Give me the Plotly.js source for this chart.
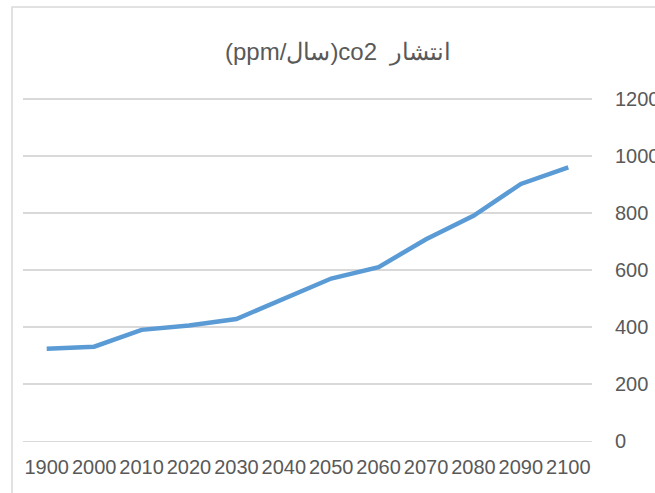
<!DOCTYPE html>
<html>
<head>
<meta charset="utf-8">
<script src="https://cdn.plot.ly/plotly-3.0.1.min.js"></script>
<style>html,body{margin:0;padding:0;background:#fff;}#chart{width:655px;height:493px;}</style>
</head>
<body>
<div id="chart"></div>
<script>
const years = ["1900","2000","2010","2020","2030","2040","2050","2060","2070","2080","2090","2100"];
const co2 = [324, 331, 390, 405, 428, 500, 570, 610, 708, 790, 902, 960];
const yTicks = [0, 200, 400, 600, 800, 1000, 1200];
const titleText = "(ppm/سال)co2  انتشار";

const textColor = "#595959";
const gridColor = "#d9d9d9";

const trace = {
  x: years,
  y: co2,
  type: "scatter",
  mode: "lines",
  line: {color: "#5b9bd5", width: 4.5},
  hoverinfo: "none"
};

const layout = {
  width: 655,
  height: 493,
  margin: {l: 23, r: 63, t: 97, b: 52, pad: 0},
  paper_bgcolor: "#ffffff",
  plot_bgcolor: "#ffffff",
  showlegend: false,
  font: {family: "Liberation Sans, Arial, sans-serif", color: textColor},
  title: {
    text: titleText,
    font: {size: 24, color: textColor, family: "Liberation Sans, Arial, sans-serif"},
    xref: "paper", x: 0.554, xanchor: "center",
    yref: "container", y: 1 - 52/493, yanchor: "middle"
  },
  xaxis: {
    type: "category",
    categoryorder: "array",
    categoryarray: years,
    range: [-0.5, years.length - 0.5],
    showgrid: false,
    showline: true,
    linecolor: gridColor,
    linewidth: 1.2,
    ticks: "",
    ticklabelstandoff: 8,
    tickfont: {size: 20, color: textColor},
    fixedrange: true
  },
  yaxis: {
    side: "right",
    range: [0, 1207],
    tickvals: yTicks,
    ticktext: yTicks.map(String),
    showgrid: true,
    gridcolor: gridColor,
    gridwidth: 1.2,
    zeroline: false,
    showline: false,
    ticks: "",
    ticklabelstandoff: 22,
    tickfont: {size: 20, color: textColor},
    fixedrange: true
  },
  shapes: [{
    type: "rect",
    xref: "paper", yref: "paper",
    x0: -11/569, x1: 1.3, y0: -0.3, y1: (441 - 7)/344,
    line: {color: gridColor, width: 1.5},
    fillcolor: "rgba(0,0,0,0)",
    layer: "below"
  }]
};

Plotly.newPlot("chart", [trace], layout, {displayModeBar: false, staticPlot: true});
</script>
</body>
</html>
